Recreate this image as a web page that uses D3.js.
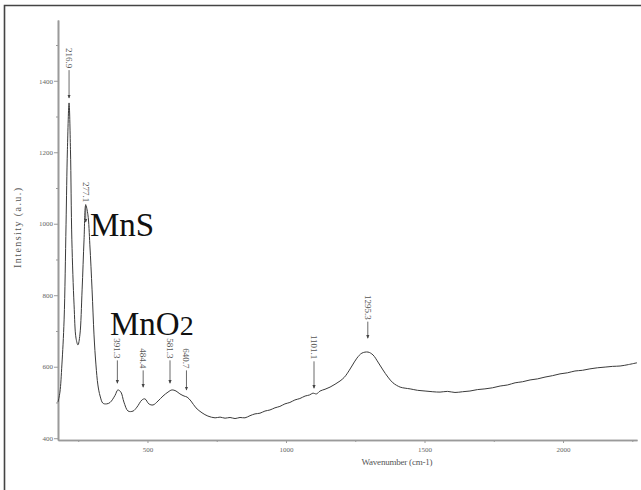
<!DOCTYPE html>
<html>
<head>
<meta charset="utf-8">
<script src="https://cdn.jsdelivr.net/npm/d3@7"></script>
<style>
  body { margin: 0; background: #fff; overflow: hidden; }
  svg { display: block; font-family: "Liberation Serif", "DejaVu Serif", serif; }
</style>
</head>
<body>
<div id="chart"></div>
<script>
// spectrum: wavenumber (cm-1) and intensity (a.u.)
const wave = [177, 184, 191, 199, 206, 211, 216.9, 222, 227, 235, 242, 249, 256, 264, 271, 277.1,
  285, 292, 300, 307, 314, 321, 329, 339, 352, 365, 383, 393, 404, 415, 430, 448, 462, 480, 491,
  505, 520, 538, 556, 574, 588, 603, 617, 632, 643, 657, 675, 697, 718, 744, 762, 780, 798, 816,
  834, 852, 870, 888, 906, 924, 942, 960, 978, 996, 1014, 1032, 1050, 1069, 1085, 1097, 1110, 1123,
  1141, 1159, 1177, 1195, 1210, 1220, 1238, 1256, 1274, 1296, 1314, 1332, 1350, 1368, 1386, 1412,
  1430, 1448, 1475, 1502, 1530, 1556, 1583, 1610, 1637, 1664, 1691, 1718, 1745, 1773, 1800, 1827,
  1854, 1881, 1908, 1935, 1962, 1989, 2016, 2043, 2070, 2097, 2124, 2152, 2179, 2206, 2236, 2267];
const intensity = [501, 529, 605, 731, 997, 1207, 1338, 1207, 955, 773, 680, 661, 689, 815, 955, 1052,
  1025, 941, 815, 689, 605, 549, 518, 498, 496, 500, 520, 535, 529, 501, 476, 476, 487, 507, 510,
  496, 493, 504, 518, 529, 535, 532, 524, 518, 515, 504, 485, 471, 462, 457, 459, 456, 458, 455,
  458, 457, 463, 468, 470, 476, 479, 485, 489, 496, 500, 507, 511, 518, 521, 526, 524, 532,
  537, 543, 551, 560, 570, 580, 602, 624, 638, 641, 633, 613, 591, 571, 555, 543,
  540, 538, 534, 532, 530, 529, 531, 528, 530, 532, 536, 538, 541, 546, 549, 555,
  558, 563, 566, 571, 575, 580, 583, 588, 590, 594, 597, 599, 601, 602, 606, 611];

const yTicks = [400, 600, 800, 1000, 1200, 1400];
const yMinor = [500, 700, 900, 1100, 1300, 1500];
const xTicks = [500, 1000, 1500, 2000];
const xMinor = [250, 750, 1250, 1750, 2250];

// peak markers: position, label, top of label and arrow tip (intensity)
const peakWave = [216.9, 277.1, 391.3, 484.4, 581.3, 640.7, 1101.1, 1295.3];
const peakText = ["216.9", "277.1", "391.3", "484.4", "581.3", "640.7", "1101.1", "1295.3"];
const peakTop = [1492, 1117, 680, 652, 680, 652, 689, 801];
const peakTip = [1352, 1005, 554, 543, 554, 535, 540, 680];

const W = 641, H = 490;
const svg = d3.select("#chart").append("svg")
  .attr("width", W)
  .attr("height", H);

// frame: only the top and left edges show
svg.append("path")
  .attr("d", `M4.5,${H}V5.5H${W}`)
  .attr("fill", "none")
  .attr("stroke", "#444")
  .attr("stroke-width", 1.6);

const x = d3.scaleLinear().domain([177, 2267]).range([58, 637]);
const y = d3.scaleLinear().domain([395, 1570]).range([440, 20]);

const axisColor = "#9a9a9a";

// y axis
const yAxis = svg.append("g")
  .attr("transform", `translate(${x.range()[0]},0)`)
  .call(d3.axisLeft(y).tickValues(yTicks).tickSize(4).tickSizeOuter(0).tickFormat(d3.format("d")));
svg.append("g")
  .attr("transform", `translate(${x.range()[0]},0)`)
  .call(d3.axisLeft(y).tickValues(yMinor).tickSize(2).tickSizeOuter(0).tickFormat(""));

// x axis
const xAxis = svg.append("g")
  .attr("transform", `translate(0,${y.range()[0]})`)
  .call(d3.axisBottom(x).tickValues(xTicks).tickSize(3).tickSizeOuter(0).tickFormat(d3.format("d")));
svg.append("g")
  .attr("transform", `translate(0,${y.range()[0]})`)
  .call(d3.axisBottom(x).tickValues(xMinor).tickSize(2).tickSizeOuter(0).tickFormat(""));

svg.selectAll(".domain").attr("stroke", axisColor).attr("stroke-width", 1.6);
svg.selectAll(".tick line").attr("stroke", axisColor);
svg.selectAll(".tick text")
  .attr("fill", "#666")
  .style("font-family", "Liberation Serif, serif")
  .style("font-size", "7px");
yAxis.selectAll(".tick text").attr("x", -5);
xAxis.selectAll(".tick text").attr("y", 7);

// axis titles
svg.append("text")
  .attr("x", 397).attr("y", 465)
  .attr("text-anchor", "middle")
  .attr("fill", "#555")
  .attr("font-size", 9)
  .attr("textLength", 71)
  .text("Wavenumber (cm-1)");

svg.append("text")
  .attr("transform", "translate(21,228) rotate(-90)")
  .attr("text-anchor", "middle")
  .attr("fill", "#555")
  .attr("font-size", 10)
  .attr("textLength", 80)
  .text("Intensity (a.u.)");

// spectrum
const points = wave.map((w, i) => [w, intensity[i]]);
svg.append("path")
  .datum(points)
  .attr("fill", "none")
  .attr("stroke", "#3a3a3a")
  .attr("stroke-width", 1)
  .attr("d", d3.line().x(d => x(d[0])).y(d => y(d[1])).curve(d3.curveCatmullRom));

// arrowhead
svg.append("defs").append("marker")
  .attr("id", "arrow")
  .attr("viewBox", "0 0 6 6")
  .attr("refX", 5).attr("refY", 3)
  .attr("markerWidth", 5).attr("markerHeight", 5)
  .attr("orient", "auto")
  .append("path")
  .attr("d", "M0,0.5L6,3L0,5.5Z")
  .attr("fill", "#444");

// peak labels
peakWave.forEach((w, i) => {
  const px = x(w), top = y(peakTop[i]);
  const t = svg.append("text")
    .attr("transform", `translate(${px},${top}) rotate(90)`)
    .attr("dy", "0.33em")
    .attr("fill", "#555")
    .attr("font-size", 9)
    .text(peakText[i]);
  const len = t.node().getComputedTextLength();
  svg.append("line")
    .attr("x1", px).attr("x2", px)
    .attr("y1", top + len + 2)
    .attr("y2", y(peakTip[i]))
    .attr("stroke", "#444")
    .attr("stroke-width", 0.8)
    .attr("marker-end", "url(#arrow)");
});

// compound labels
svg.append("text")
  .attr("x", 90).attr("y", 236)
  .attr("font-size", 33)
  .attr("fill", "#111")
  .text("MnS");

const mno2 = svg.append("text")
  .attr("x", 110).attr("y", 335)
  .attr("font-size", 33)
  .attr("fill", "#111");
mno2.append("tspan").text("MnO");
mno2.append("tspan").attr("font-size", 28).text("2");
</script>
</body>
</html>
